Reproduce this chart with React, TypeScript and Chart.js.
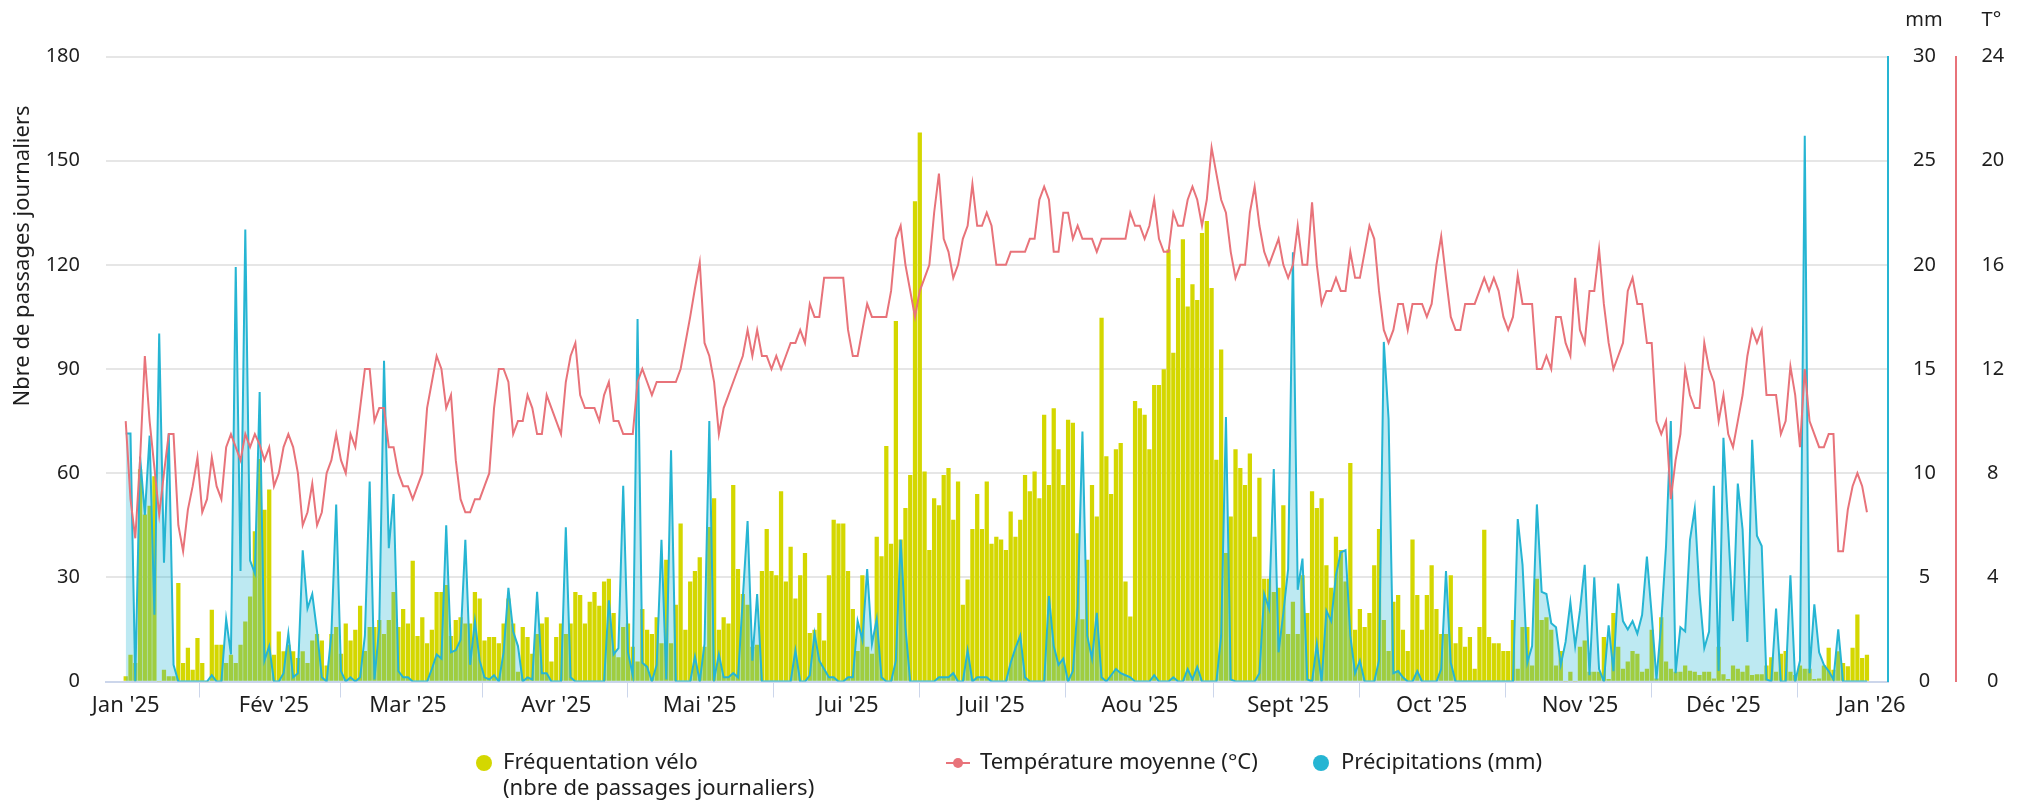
import React, { useEffect, useRef } from 'react';
import { Chart, registerables } from 'chart.js';

Chart.register(...registerables);

// ---------- labels ----------
const monthStartDays = [0, 31, 59, 90, 120, 151, 181, 212, 243, 273, 304, 334, 365];
const monthLabels = ["Jan '25", "Fév '25", "Mar '25", "Avr '25", "Mai '25", "Jui '25", "Juil '25", "Aou '25", "Sept '25", "Oct '25", "Nov '25", "Déc '25", "Jan '26"];
const leftAxisTitle = 'Nbre de passages journaliers';
const rainAxisTitle = 'mm';
const tempAxisTitle = 'T°';
const bikeLegendLines = ['Fréquentation vélo', '(nbre de passages journaliers)'];
const tempLegend = 'Température moyenne (°C)';
const rainLegend = 'Précipitations (mm)';

// ---------- daily values, 1 Jan 2025 -> 31 Dec 2025 ----------
const dailyBikes = [
  1.4, 7.6, 5.2, 61, 48, 50.5, 59, 0, 3.3, 1.4,
  1.4, 28.3, 5.2, 9.6, 3.3, 12.4, 5.2, 0, 20.6, 10.5,
  10.5, 5.2, 7.6, 5.2, 10.5, 17.2, 24.4, 43.2, 64, 49.4,
  55.2, 7.6, 14.3, 8.6, 10.5, 8.6, 6.7, 8.6, 5.2, 11.7,
  13.6, 11.7, 4.5, 13.6, 15.6, 7.9, 16.6, 11.7, 14.8, 21.7,
  8.7, 15.6, 15.6, 17.6, 13.6, 17.6, 25.7, 15.6, 20.8, 16.6,
  34.7, 13, 18.4, 10.9, 14.8, 25.7, 25.7, 27.7, 13, 17.6,
  18.4, 16.6, 16.6, 25.7, 23.8, 11.7, 12.7, 12.7, 10.9, 16.6,
  23.8, 16.6, 2.7, 15.6, 12.7, 7.9, 13.6, 16.6, 18.4, 5.7,
  12.7, 16.6, 13.6, 16.6, 25.7, 24.8, 16.6, 22.9, 25.7, 21.7,
  28.7, 29.5, 19.6, 6.9, 15.6, 16.6, 9.9, 5.7, 20.8, 14.8,
  13.6, 18.4, 10.9, 35.0, 10.9, 22.0, 45.4, 14.8, 28.7, 31.7,
  35.7, 9.9, 44.4, 52.7, 14.8, 18.4, 16.6, 56.5, 32.3, 25.1,
  22.0, 9.9, 10.5, 31.7, 43.8, 31.7, 30.5, 54.7, 28.7, 38.7,
  23.8, 30.5, 36.9, 13.9, 14.8, 19.6, 11.7, 30.5, 46.5, 45.4,
  45.4, 31.7, 20.8, 8.7, 30.5, 9.9, 7.9, 41.6, 36, 67.7,
  39.6, 103.7, 40.8, 49.9, 59.4, 138.2, 158, 60.4, 37.8, 52.7,
  50.7, 59.4, 61.4, 46.5, 57.5, 22.0, 29.3, 43.8, 53.9, 43.8,
  57.5, 39.6, 41.6, 40.8, 37.8, 48.9, 41.6, 46.5, 59.4, 54.7,
  60.4, 52.7, 76.7, 56.5, 78.6, 66.8, 56.5, 75.3, 74.4, 42.6,
  17.8, 35.0, 56.5, 47.4, 104.7, 64.8, 53.9, 66.8, 68.6, 28.7,
  18.6, 80.7, 78.6, 76.7, 66.8, 85.3, 85.3, 89.8, 124.3, 94.6,
  116.1, 127.3, 107.9, 114.3, 109.8, 129.1, 132.5, 113.2, 63.8, 95.5,
  36.9, 47.4, 66.8, 61.4, 56.5, 65.6, 41.6, 58.6, 29.5, 29.5,
  25.7, 26.9, 50.7, 13.6, 22.9, 13.6, 30.5, 19.6, 54.7, 49.9,
  52.7, 33.4, 26.9, 41.6, 37.8, 28.7, 62.8, 14.8, 20.8, 15.6,
  19.6, 33.4, 43.8, 17.6, 8.7, 22.9, 24.8, 14.8, 8.7, 40.8,
  24.8, 14.8, 24.8, 33.4, 20.8, 13.6, 13.6, 30.5, 10.9, 15.6,
  9.9, 12.7, 3.6, 15.6, 43.6, 12.7, 10.9, 10.9, 8.7, 8.7,
  17.6, 3.6, 15.6, 15.6, 4.5, 29.5, 17.6, 18.4, 14.8, 4.5,
  8.7, 0, 2.7, 0, 9.9, 11.7, 2.7, 2.7, 2.7, 12.7,
  0.6, 19.6, 9.9, 3.6, 5.7, 8.7, 7.9, 2.7, 3.6, 14.8,
  0.8, 18.4, 5.7, 3.6, 2.7, 2.7, 4.5, 3, 2.7, 1.8,
  2.7, 2.7, 0.8, 9.9, 2, 0.6, 4.5, 3.6, 2.7, 4.5,
  1.8, 2, 2, 4.5, 6.9, 2.7, 7.9, 8.7, 2.7, 1.8,
  4.5, 3.6, 3.6, 0.6, 0.8, 4.5, 9.6, 3.3, 8.6, 5.2,
  4.3, 9.6, 19.2, 6.7, 7.6,
];

const dailyTemp = [
  10.0, 7.0, 5.5, 8.5, 12.5, 10.0, 8.2, 6.4, 8.0, 9.5,
  9.5, 6.0, 5.0, 6.6, 7.5, 8.6, 6.5, 7.0, 8.6, 7.5,
  7.0, 9.0, 9.5, 9.0, 8.5, 9.5, 9.0, 9.5, 9.1, 8.5,
  9.0, 7.5, 8.0, 9.0, 9.5, 9.0, 8.0, 6.0, 6.5, 7.6,
  6.0, 6.5, 8.0, 8.5, 9.5, 8.5, 8.0, 9.5, 9.0, 10.5,
  12.0, 12.0, 10.0, 10.5, 10.5, 9.0, 9.0, 8.0, 7.5, 7.5,
  7.0, 7.5, 8.0, 10.5, 11.5, 12.5, 12.0, 10.5, 11.0, 8.5,
  7.0, 6.5, 6.5, 7.0, 7.0, 7.5, 8.0, 10.5, 12.0, 12.0,
  11.5, 9.5, 10.0, 10.0, 11.0, 10.5, 9.5, 9.5, 11.0, 10.5,
  10.0, 9.5, 11.5, 12.5, 13.0, 11.0, 10.5, 10.5, 10.5, 10.0,
  11.0, 11.5, 10.0, 10.0, 9.5, 9.5, 9.5, 11.5, 12.0, 11.5,
  11.0, 11.5, 11.5, 11.5, 11.5, 11.5, 12.0, 13.0, 14.0, 15.1,
  16.1, 13.0, 12.5, 11.5, 9.5, 10.5, 11.0, 11.5, 12.0, 12.5,
  13.5, 12.5, 13.5, 12.5, 12.5, 12.0, 12.5, 12.0, 12.5, 13.0,
  13.0, 13.5, 13.0, 14.5, 14.0, 14.0, 15.5, 15.5, 15.5, 15.5,
  15.5, 13.5, 12.5, 12.5, 13.5, 14.5, 14.0, 14.0, 14.0, 14.0,
  15.0, 17.0, 17.5, 16.0, 15.0, 14.0, 15.0, 15.5, 16.0, 18.0,
  19.5, 17.0, 16.5, 15.5, 16.0, 17.0, 17.5, 19.1, 17.5, 17.5,
  18.0, 17.5, 16.0, 16.0, 16.0, 16.5, 16.5, 16.5, 16.5, 17.0,
  17.0, 18.5, 19.0, 18.5, 16.5, 16.5, 18.0, 18.0, 17.0, 17.5,
  17.0, 17.0, 17.0, 16.5, 17.0, 17.0, 17.0, 17.0, 17.0, 17.0,
  18.0, 17.5, 17.5, 17.0, 17.5, 18.5, 17.0, 16.5, 16.5, 18.0,
  17.5, 17.5, 18.5, 19.0, 18.5, 17.5, 18.5, 20.5, 19.5, 18.5,
  18.0, 16.5, 15.5, 16.0, 16.0, 18.0, 19.0, 17.5, 16.5, 16.0,
  16.5, 17.0, 16.0, 15.5, 16.0, 17.5, 16.0, 16.0, 18.4, 16.0,
  14.5, 15.0, 15.0, 15.5, 15.0, 15.0, 16.5, 15.5, 15.5, 16.5,
  17.5, 17.0, 15.0, 13.5, 13.0, 13.5, 14.5, 14.5, 13.5, 14.5,
  14.5, 14.5, 14.0, 14.5, 16.0, 17.1, 15.5, 14.0, 13.5, 13.5,
  14.5, 14.5, 14.5, 15.0, 15.5, 15.0, 15.5, 15.0, 14.0, 13.5,
  14.0, 15.6, 14.5, 14.5, 14.5, 12.0, 12.0, 12.5, 12.0, 14.0,
  14.0, 13.0, 12.5, 15.5, 13.5, 13.0, 15.0, 15.0, 16.6, 14.5,
  13.0, 12.0, 12.5, 13.0, 15.0, 15.5, 14.5, 14.5, 13.0, 13.0,
  10.0, 9.5, 10.0, 7.0, 8.5, 9.5, 12.0, 11.0, 10.5, 10.5,
  13.0, 12.0, 11.5, 10.0, 11.0, 9.5, 9.0, 10.0, 11.0, 12.5,
  13.5, 13.0, 13.5, 11.0, 11.0, 11.0, 9.5, 10.0, 12.1, 11.0,
  9.0, 12.0, 10.0, 9.5, 9.0, 9.0, 9.5, 9.5, 5.0, 5.0,
  6.6, 7.5, 8.0, 7.5, 6.5,
];

const dailyRain = [
  11.9, 11.9, 0, 10.8, 8.0, 11.8, 3.2, 16.7, 5.7, 11.9,
  0.8, 0, 0, 0, 0, 0, 0, 0, 0.3, 0,
  0, 3.0, 1.3, 19.9, 5.3, 21.7, 5.8, 5.2, 13.9, 1.0,
  1.7, 0, 0, 0.4, 2.3, 0.2, 0.4, 6.3, 3.5, 4.2,
  2.4, 0.2, 0, 2.3, 8.5, 0.5, 0, 0.2, 0, 0.2,
  2.2, 9.6, 0.1, 2.6, 15.4, 6.4, 9.0, 0.5, 0.2, 0.2,
  0, 0, 0, 0, 0.6, 1.3, 1.1, 7.5, 1.4, 1.5,
  2.0, 6.8, 0.8, 2.9, 1.0, 0.2, 0.1, 0.3, 0, 1.4,
  4.5, 2.4, 1.7, 0, 0.2, 0.1, 4.3, 0.4, 0.4, 0,
  0, 0, 7.4, 0.2, 0, 0, 0, 0, 0, 0,
  0, 3.9, 1.3, 1.6, 9.4, 1.4, 0.3, 17.4, 0.9, 0.7,
  0, 0.8, 6.8, 0.1, 11.1, 0, 0, 0, 0, 1.2,
  0, 1.8, 12.5, 0.1, 1.3, 0.2, 0.2, 0.4, 0.2, 4.0,
  7.7, 1.0, 4.2, 0, 0, 0, 0, 0, 0, 0,
  1.5, 0, 0, 0.3, 2.3, 1.0, 0.6, 0.2, 0.2, 0,
  0, 0.2, 0.2, 2.9, 2.0, 5.4, 1.8, 3.0, 0.2, 0,
  0, 1.0, 6.8, 2.6, 0, 0, 0, 0, 0, 0,
  0.2, 0.2, 0.2, 0.4, 0, 0, 1.5, 0, 0.2, 0.2,
  0.2, 0, 0, 0, 0, 0.9, 1.6, 2.2, 0.2, 0,
  0, 0, 0, 4.1, 1.7, 0.8, 1.1, 0, 0.5, 3.6,
  12.0, 2.2, 1.1, 3.3, 0.2, 0, 0.3, 0.6, 0.4, 0.3,
  0.2, 0, 0, 0, 0, 0.3, 0, 0, 0, 0.2,
  0, 0, 0.6, 0.1, 0.7, 0, 0, 0, 0, 2.2,
  12.7, 0.1, 0, 0, 0, 0, 0, 0.4, 4.2, 3.5,
  10.2, 1.4, 3.3, 5.4, 20.6, 4.4, 5.9, 0.1, 0, 1.8,
  0, 3.4, 2.9, 5.1, 6.2, 6.3, 2.2, 0.4, 1.0, 0,
  0, 0, 1.0, 16.3, 12.6, 0.4, 0.5, 0.2, 0, 0,
  0.5, 0, 0, 0, 0, 0.6, 5.3, 0.9, 0, 0,
  0, 0, 0, 0, 0, 0, 0, 0, 0, 0,
  0, 7.8, 5.6, 0.9, 1.7, 8.5, 4.3, 4.2, 2.8, 2.6,
  0.8, 1.9, 3.8, 1.7, 3.4, 5.6, 0.3, 5.0, 0.6, 0,
  2.7, 0.5, 4.7, 2.9, 2.5, 2.9, 2.3, 3.2, 6.0, 3.2,
  0.1, 2.8, 6.5, 12.5, 0.4, 2.6, 2.4, 6.8, 8.3, 4.2,
  1.6, 2.4, 9.4, 0.5, 11.7, 7.3, 2.9, 9.5, 7.3, 1.9,
  11.6, 7.0, 6.5, 0.1, 0, 3.5, 0, 0, 5.1, 0,
  1.0, 26.2, 0.4, 3.7, 1.4, 0.8, 0.5, 0.1, 2.5, 0,
  0, 0, 0, 0, 0,
];

// ---------- styling ----------
const FONT_FAMILY = '"Noto Sans", "Open Sans", sans-serif';
const TEXT_COLOR = '#1e1e1e';
const BIKE_COLOR = '#d4d700';
const TEMP_COLOR = '#e8737a';
const RAIN_COLOR = '#26b5d3';
const RAIN_FILL = 'rgba(38,181,211,0.3)';
const GRID_COLOR = '#e6e6e6';
const AXIS_COLOR = '#ccd6eb';

const overlayPlugin = {
  id: 'overlayText',
  afterDraw(chart: any) {
    const ctx = chart.ctx as CanvasRenderingContext2D;
    const rainScale = chart.scales.yRain;
    const tempScale = chart.scales.yTemp;
    ctx.save();
    ctx.fillStyle = TEXT_COLOR;
    ctx.textBaseline = 'middle';

    // left axis title
    ctx.save();
    ctx.font = `22px ${FONT_FAMILY}`;
    ctx.translate(23, 256);
    ctx.rotate(-Math.PI / 2);
    ctx.textAlign = 'center';
    ctx.fillText(leftAxisTitle, 0, 0);
    ctx.restore();

    // right axis titles
    ctx.font = `20px ${FONT_FAMILY}`;
    ctx.textAlign = 'center';
    ctx.fillText(rainAxisTitle, rainScale.left + 36, 20);
    ctx.fillText(tempAxisTitle, tempScale.left + 35, 20);

    // legend
    ctx.font = `22px ${FONT_FAMILY}`;
    const ly = 763;
    ctx.textAlign = 'left';
    // bikes
    ctx.fillStyle = BIKE_COLOR;
    ctx.beginPath();
    ctx.arc(484, ly, 8, 0, Math.PI * 2);
    ctx.fill();
    ctx.fillStyle = TEXT_COLOR;
    ctx.fillText(bikeLegendLines[0], 503, ly);
    ctx.fillText(bikeLegendLines[1], 503, ly + 26);
    // temperature
    ctx.strokeStyle = TEMP_COLOR;
    ctx.lineWidth = 2;
    ctx.beginPath();
    ctx.moveTo(946, ly);
    ctx.lineTo(970, ly);
    ctx.stroke();
    ctx.fillStyle = TEMP_COLOR;
    ctx.beginPath();
    ctx.arc(958, ly, 5, 0, Math.PI * 2);
    ctx.fill();
    ctx.fillStyle = TEXT_COLOR;
    ctx.fillText(tempLegend, 980, ly);
    // rain
    ctx.fillStyle = RAIN_COLOR;
    ctx.beginPath();
    ctx.arc(1321, ly, 8, 0, Math.PI * 2);
    ctx.fill();
    ctx.fillStyle = TEXT_COLOR;
    ctx.fillText(rainLegend, 1341, ly);
    ctx.restore();
  },
};

export default function App() {
  const canvasRef = useRef<HTMLCanvasElement | null>(null);

  useEffect(() => {
    document.body.style.margin = '0';
    document.body.style.overflow = 'hidden';
    const canvas = canvasRef.current;
    if (!canvas) return;

    const bikePoints = dailyBikes.map((v, i) => ({ x: i, y: v }));
    const tempPoints = dailyTemp.map((v, i) => ({ x: i, y: v }));
    const rainPoints = dailyRain.map((v, i) => ({ x: i, y: v }));
    const tickFont = { family: FONT_FAMILY, size: 20 };

    const chart = new Chart(canvas, {
      type: 'bar',
      data: {
        datasets: [
          {
            type: 'line',
            label: tempLegend,
            data: tempPoints,
            yAxisID: 'yTemp',
            borderColor: TEMP_COLOR,
            borderWidth: 2,
            pointRadius: 0,
            tension: 0,
            fill: false,
            order: 1,
          } as any,
          {
            type: 'line',
            label: rainLegend,
            data: rainPoints,
            yAxisID: 'yRain',
            borderColor: RAIN_COLOR,
            backgroundColor: RAIN_FILL,
            borderWidth: 2,
            pointRadius: 0,
            tension: 0,
            fill: 'origin',
            order: 2,
          } as any,
          {
            type: 'bar',
            label: bikeLegendLines.join(' '),
            data: bikePoints,
            yAxisID: 'yBikes',
            backgroundColor: BIKE_COLOR,
            barThickness: 3.6,
            order: 3,
          } as any,
        ],
      },
      options: {
        responsive: false,
        animation: false,
        devicePixelRatio: 1,
        events: [],
        layout: { padding: { top: 56.5, bottom: 82.5, left: 0, right: 0 } },
        plugins: {
          legend: { display: false },
          tooltip: { enabled: false },
        },
        scales: {
          x: {
            type: 'linear',
            min: -4.12,
            max: 368.4,
            offset: false,
            afterBuildTicks: (s: any) => {
              s.ticks = monthStartDays.map((v) => ({ value: v }));
            },
            afterFit: (s: any) => {
              s.height = 40;
            },
            ticks: {
              autoSkip: false,
              maxRotation: 0,
              minRotation: 0,
              padding: -2.5,
              color: TEXT_COLOR,
              font: { family: FONT_FAMILY, size: 22, lineHeight: 1 },
              callback: (v: any) => {
                const idx = monthStartDays.indexOf(Number(v));
                return idx >= 0 ? monthLabels[idx] : '';
              },
            },
            grid: {
              display: true,
              drawOnChartArea: false,
              drawTicks: true,
              tickLength: 16,
              color: AXIS_COLOR,
              lineWidth: 1,
            },
            border: { display: true, color: AXIS_COLOR, width: 2 },
          },
          yBikes: {
            type: 'linear',
            position: 'left',
            min: 0,
            max: 180,
            afterFit: (s: any) => {
              s.width = 106;
            },
            ticks: { stepSize: 30, padding: 26, color: TEXT_COLOR, font: tickFont },
            grid: { color: GRID_COLOR, lineWidth: 2, drawTicks: false },
            border: { display: false },
          },
          yRain: {
            type: 'linear',
            position: 'right',
            weight: 1,
            min: 0,
            max: 30,
            afterFit: (s: any) => {
              s.width = 68.4;
            },
            ticks: { stepSize: 5, padding: 25, crossAlign: 'center', color: TEXT_COLOR, font: tickFont },
            grid: { display: false, drawTicks: false, drawOnChartArea: false },
            border: { display: true, color: RAIN_COLOR, width: 2 },
          },
          yTemp: {
            type: 'linear',
            position: 'right',
            weight: 2,
            min: 0,
            max: 24,
            afterFit: (s: any) => {
              s.width = 65.6;
            },
            ticks: { stepSize: 4, padding: 25, crossAlign: 'center', color: TEXT_COLOR, font: tickFont },
            grid: { display: false, drawTicks: false, drawOnChartArea: false },
            border: { display: true, color: TEMP_COLOR, width: 2 },
          },
        } as any,
      },
      plugins: [overlayPlugin],
    });

    return () => {
      chart.destroy();
    };
  }, []);

  return (
    <div style={{ position: 'absolute', left: 0, top: 0, width: 2022, height: 804, background: '#fff' }}>
      <canvas ref={canvasRef} width={2022} height={804} style={{ display: 'block', width: 2022, height: 804 }} />
    </div>
  );
}
